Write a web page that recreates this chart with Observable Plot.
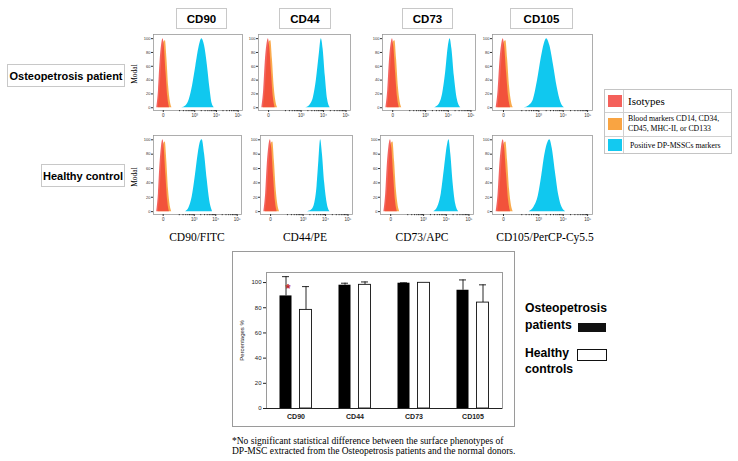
<!DOCTYPE html>
<html>
<head>
<meta charset="utf-8">
<script src="https://cdn.jsdelivr.net/npm/d3@7"></script>
<script src="https://cdn.jsdelivr.net/npm/@observablehq/plot@0.6"></script>
<style>
  html, body { margin: 0; padding: 0; background: #fff; }
  #root { position: relative; width: 738px; height: 461px; overflow: hidden; background: #fff; }
  .abs { position: absolute; white-space: nowrap; line-height: 1; }
  .sans { font-family: "Liberation Sans", Arial, sans-serif; }
  .serif { font-family: "Liberation Serif", "Times New Roman", serif; }
  .box { position: absolute; border: 1px solid #c8c8c8; box-sizing: border-box; display: flex; align-items: center; justify-content: center; white-space: nowrap; }
</style>
</head>
<body>
<div id="root"></div>
<script>
// ---------------- Data ----------------
// Histogram panels (flow cytometry), x in display units: 0 -> 1.55, 10^3 -> 3, 10^4 -> 4, 10^5 -> 5
const markers = ["CD90", "CD44", "CD73", "CD105"];
const channelTitles = ["CD90/FITC", "CD44/PE", "CD73/APC", "CD105/PerCP-Cy5.5"];
const rowTitles = ["Osteopetrosis patient", "Healthy control"];
const xTickPos = [1.55, 3, 4, 5];
const xTickLabels = ["0", "10³", "10⁴", "10⁵"];
const yTicksModal = [0, 20, 40, 60, 80, 100];

const isotypeRed = [[1.25,0],[1.33,25],[1.4,65],[1.47,90],[1.54,100],[1.6,88],[1.68,50],[1.76,15],[1.84,0]];
const bloodOrange = [[1.32,0],[1.42,35],[1.5,75],[1.58,95],[1.65,97],[1.72,70],[1.8,30],[1.88,8],[1.95,0]];

const patientCyan = [
  [[2.4,0],[2.6,3],[2.75,12],[2.9,32],[3.05,60],[3.2,88],[3.33,100],[3.45,90],[3.58,62],[3.7,28],[3.8,6],[3.9,0]],
  [[3.2,0],[3.4,4],[3.55,15],[3.68,40],[3.8,75],[3.9,100],[3.98,85],[4.08,45],[4.18,12],[4.3,0]],
  [[3.4,0],[3.6,5],[3.75,20],[3.88,50],[4.0,88],[4.08,100],[4.16,85],[4.27,45],[4.4,12],[4.55,0]],
  [[2.4,0],[2.6,3],[2.78,12],[2.95,40],[3.1,72],[3.22,92],[3.32,100],[3.45,90],[3.6,62],[3.75,30],[3.9,8],[4.05,0]]
];
const controlCyan = [
  [[2.6,0],[2.75,5],[2.9,20],[3.05,50],[3.18,80],[3.3,98],[3.37,100],[3.48,80],[3.6,45],[3.72,15],[3.85,0]],
  [[3.2,0],[3.4,3],[3.52,12],[3.62,35],[3.7,70],[3.78,100],[3.86,80],[3.96,40],[4.08,10],[4.2,0]],
  [[3.45,0],[3.62,6],[3.78,25],[3.92,60],[4.05,92],[4.12,100],[4.2,80],[4.3,40],[4.42,10],[4.55,0]],
  [[2.6,0],[2.8,6],[2.98,22],[3.12,50],[3.25,80],[3.38,97],[3.45,100],[3.55,88],[3.68,55],[3.82,22],[3.95,6],[4.1,0]]
];

// Bar chart
const patientMean = [89.4, 97.9, 99.5, 93.9];
const patientErr  = [15.3, 1.6, 0.3, 8.2];
const controlMean = [78.3, 98.2, 99.8, 84.1];
const controlErr  = [18.5, 2.3, 0, 14.1];
const barYTicks = [0, 20, 40, 60, 80, 100];
const significantMarker = "CD90";

const legendItems = [
  {label: "Isotypes", color: "#f4605a"},
  {label: "Blood markers CD14, CD34,\nCD45, MHC-II, or CD133", color: "#f9a442"},
  {label: "Positive DP-MSSCs markers", color: "#13c9f0"}
];
const footnote = ["*No significant statistical difference between the surface phenotypes of",
                  "DP-MSC extracted from the Osteopetrosis patients and the normal donors."];

// ---------------- Layout helpers ----------------
const root = document.getElementById("root");
function txt(s, x, y, cls, css = {}, anchor = "left") {
  const d = document.createElement("div");
  d.className = "abs " + cls;
  d.textContent = s;
  d.style.left = x + "px";
  d.style.top = y + "px";
  const tx = anchor === "middle" ? "-50%" : anchor === "end" ? "-100%" : "0";
  d.style.transform = `translate(${tx}, -50%)` + (css.rotate ? ` rotate(${css.rotate}deg)` : "");
  delete css.rotate;
  Object.assign(d.style, css);
  root.appendChild(d);
  return d;
}
function box(x, y, w, h, css = {}) {
  const d = document.createElement("div");
  d.className = "box";
  Object.assign(d.style, {left: x + "px", top: y + "px", width: w + "px", height: h + "px"}, css);
  root.appendChild(d);
  return d;
}
function place(node, x, y) {
  node.style.position = "absolute";
  node.style.left = x + "px";
  node.style.top = y + "px";
  root.appendChild(node);
}

// ---------------- Headers ----------------
const headerBoxes = [[176, 51], [279, 52], [402, 51], [510, 63]];
markers.forEach((m, i) => {
  const b = box(headerBoxes[i][0], 8, headerBoxes[i][1], 21);
  b.className += " sans";
  b.style.fontWeight = "bold";
  b.style.fontSize = "11.5px";
  b.textContent = m;
});

// Row label boxes
[[7, 64, 118, 23], [41, 164, 84, 23]].forEach((bb, i) => {
  const b = box(bb[0], bb[1], bb[2], bb[3]);
  b.className += " sans";
  b.style.fontWeight = "bold";
  b.style.fontSize = "11px";
  b.textContent = rowTitles[i];
});

// ---------------- Histograms ----------------
const minorTicks = [];
[2, 3, 4].forEach(k => [2,3,4,5,6,7,8,9].forEach(m => minorTicks.push(k + Math.log10(m))));
const frames = [
  [[153, 242], [258, 350], [382, 475], [492, 592]],
  [[153, 241], [260, 352], [380, 473], [492, 592]]
];
const rowY = [[34, 110], [135, 214]];
const mL = 14, mR = 3, mT = 3, mB = 11;

function histogram(cyan, fx, fy) {
  const w = fx[1] - fx[0], h = fy[1] - fy[0];
  const p = Plot.plot({
    width: w + mL + mR, height: h + mT + mB,
    marginLeft: mL, marginRight: mR, marginTop: mT, marginBottom: mB,
    x: {domain: [1.1, 5.2]},
    y: {domain: [-4, 106]},
    style: {fontFamily: "'Liberation Sans', Arial, sans-serif", fontSize: "4px", background: "transparent", overflow: "visible", color: "#333"},
    marks: [
      Plot.areaY(bloodOrange, {x: d => d[0], y: d => d[1], fill: "#f9a13a", fillOpacity: 0.9, curve: "monotone-x"}),
      Plot.areaY(isotypeRed, {x: d => d[0], y: d => d[1], fill: "#f03c37", fillOpacity: 0.8, curve: "monotone-x"}),
      Plot.areaY(cyan, {x: d => d[0], y: d => d[1], fill: "#10c8ef", curve: "monotone-x"}),
      Plot.frame({stroke: "#9a9a9a", strokeWidth: 0.8}),
      Plot.axisY({ticks: yTicksModal, tickSize: 2, tickPadding: 1, label: null, fontSize: 4}),
      Plot.axisX({ticks: xTickPos, tickFormat: d => xTickLabels[xTickPos.indexOf(d)], tickSize: 2, tickPadding: 1.5, label: null, fontSize: 4.5}),
      Plot.axisX({ticks: minorTicks, tickFormat: () => "", tickSize: 1.2, label: null})
    ]
  });
  place(p, fx[0] - mL, fy[0] - mT);
}
[patientCyan, controlCyan].forEach((row, r) => {
  row.forEach((cyan, c) => histogram(cyan, frames[r][c], rowY[r]));
  txt("Modal", 135, (rowY[r][0] + rowY[r][1]) / 2 + 2, "serif", {fontSize: "7.5px", rotate: -90}, "middle");
});
const titleX = [197, 305, 422, 545];
channelTitles.forEach((t, i) => txt(t, titleX[i], 238, "serif", {fontSize: "11.5px"}, "middle"));

// Histogram legend
const lg = document.createElement("div");
Object.assign(lg.style, {position: "absolute", left: "604px", top: "89px", width: "128px", height: "65px", border: "1px solid #c4c4c4", boxSizing: "border-box"});
root.appendChild(lg);
const rowsH = [22, 24, 19];
let yy = 0;
legendItems.forEach((it, i) => {
  const r = document.createElement("div");
  Object.assign(r.style, {position: "absolute", left: "0", top: yy + "px", width: "126px", height: rowsH[i] + "px", borderTop: i ? "1px solid #d0d0d0" : "none", boxSizing: "border-box"});
  const sw = document.createElement("div");
  Object.assign(sw.style, {position: "absolute", left: "3px", top: (i === 2 ? 2 : 5) + "px", width: "14px", height: "12px", background: it.color});
  r.appendChild(sw);
  const t = document.createElement("div");
  t.className = "serif";
  t.textContent = it.label;
  Object.assign(t.style, {position: "absolute", left: i === 2 ? "25px" : "23px", top: "50%", transform: "translateY(-50%)", whiteSpace: "pre", fontSize: i === 0 ? "11px" : "7.8px", lineHeight: "1.35"});
  r.appendChild(t);
  lg.appendChild(r);
  yy += rowsH[i];
});
const div = document.createElement("div");
Object.assign(div.style, {position: "absolute", left: "18px", top: "0", width: "1px", height: "63px", background: "#d0d0d0"});
lg.appendChild(div);

// ---------------- Bar chart ----------------
const barRows = markers.map((m, i) => ({marker: m, pMean: patientMean[i], pErr: patientErr[i], cMean: controlMean[i], cErr: controlErr[i]}));
const bar = Plot.plot({
  width: 282, height: 174,
  marginLeft: 34, marginTop: 20, marginRight: 12, marginBottom: 18,
  x: {domain: markers, padding: 0},
  y: {domain: [0, 108]},
  style: {fontFamily: "'Liberation Sans', Arial, sans-serif", fontSize: "6px", background: "transparent", color: "#222", overflow: "visible"},
  marks: [
    Plot.frame({stroke: "#9a9a9a", strokeWidth: 1}),
    Plot.ruleX(barRows, {x: "marker", y1: "pMean", y2: d => d.pMean + d.pErr, dx: -10, stroke: "#111", strokeWidth: 0.9}),
    Plot.tickY(barRows.filter(d => d.pErr > 0), {x: "marker", y: d => d.pMean + d.pErr, insetLeft: 16, insetRight: 36, stroke: "#111", strokeWidth: 0.9}),
    Plot.ruleX(barRows.filter(d => d.cErr > 0), {x: "marker", y1: "cMean", y2: d => d.cMean + d.cErr, dx: 10, stroke: "#111", strokeWidth: 0.9}),
    Plot.tickY(barRows.filter(d => d.cErr > 0), {x: "marker", y: d => d.cMean + d.cErr, insetLeft: 36, insetRight: 16, stroke: "#111", strokeWidth: 0.9}),
    Plot.barY(barRows, {x: "marker", y: "pMean", fill: "#000", insetLeft: 13.5, insetRight: 33.5}),
    Plot.barY(barRows, {x: "marker", y: "cMean", fill: "#fff", stroke: "#111", strokeWidth: 0.9, insetLeft: 33.5, insetRight: 13.5}),
    Plot.text(barRows.filter(d => d.marker === significantMarker), {x: "marker", y: d => d.pMean + 8, text: () => "*", dx: -8, dy: 3, fill: "#c0262c", fontSize: 13, fontWeight: "bold"}),
    Plot.ruleY([0], {stroke: "#222", strokeWidth: 1}),
    Plot.axisY({ticks: barYTicks, tickSize: 3, tickPadding: 2, label: "Percentages %", labelAnchor: "center", labelArrow: "none", labelOffset: 27, fontSize: 6}),
    Plot.axisX({tickSize: 0, tickPadding: 6, label: null, fontWeight: "bold", fontSize: 7})
  ]
});
place(bar, 232, 252);
const bb = box(232, 251, 283, 176, {border: "1.5px solid #9a9a9a", background: "transparent"});
bb.style.pointerEvents = "none";

// Bar legend
txt("Osteopetrosis", 525, 308, "sans", {fontSize: "12.2px", fontWeight: "bold"});
txt("patients", 525, 325, "sans", {fontSize: "12.2px", fontWeight: "bold"});
box(578, 323, 28, 9, {background: "#111", border: "none"});
txt("Healthy", 525, 353, "sans", {fontSize: "12.2px", fontWeight: "bold"});
txt("controls", 525, 369, "sans", {fontSize: "12.2px", fontWeight: "bold"});
box(577, 349, 30, 12, {background: "#fff", border: "1.6px solid #111"});

// Footnote
txt(footnote[0], 232, 442, "serif", {fontSize: "9.5px"});
txt(footnote[1], 232, 452, "serif", {fontSize: "9.5px"});
</script>
</body>
</html>
